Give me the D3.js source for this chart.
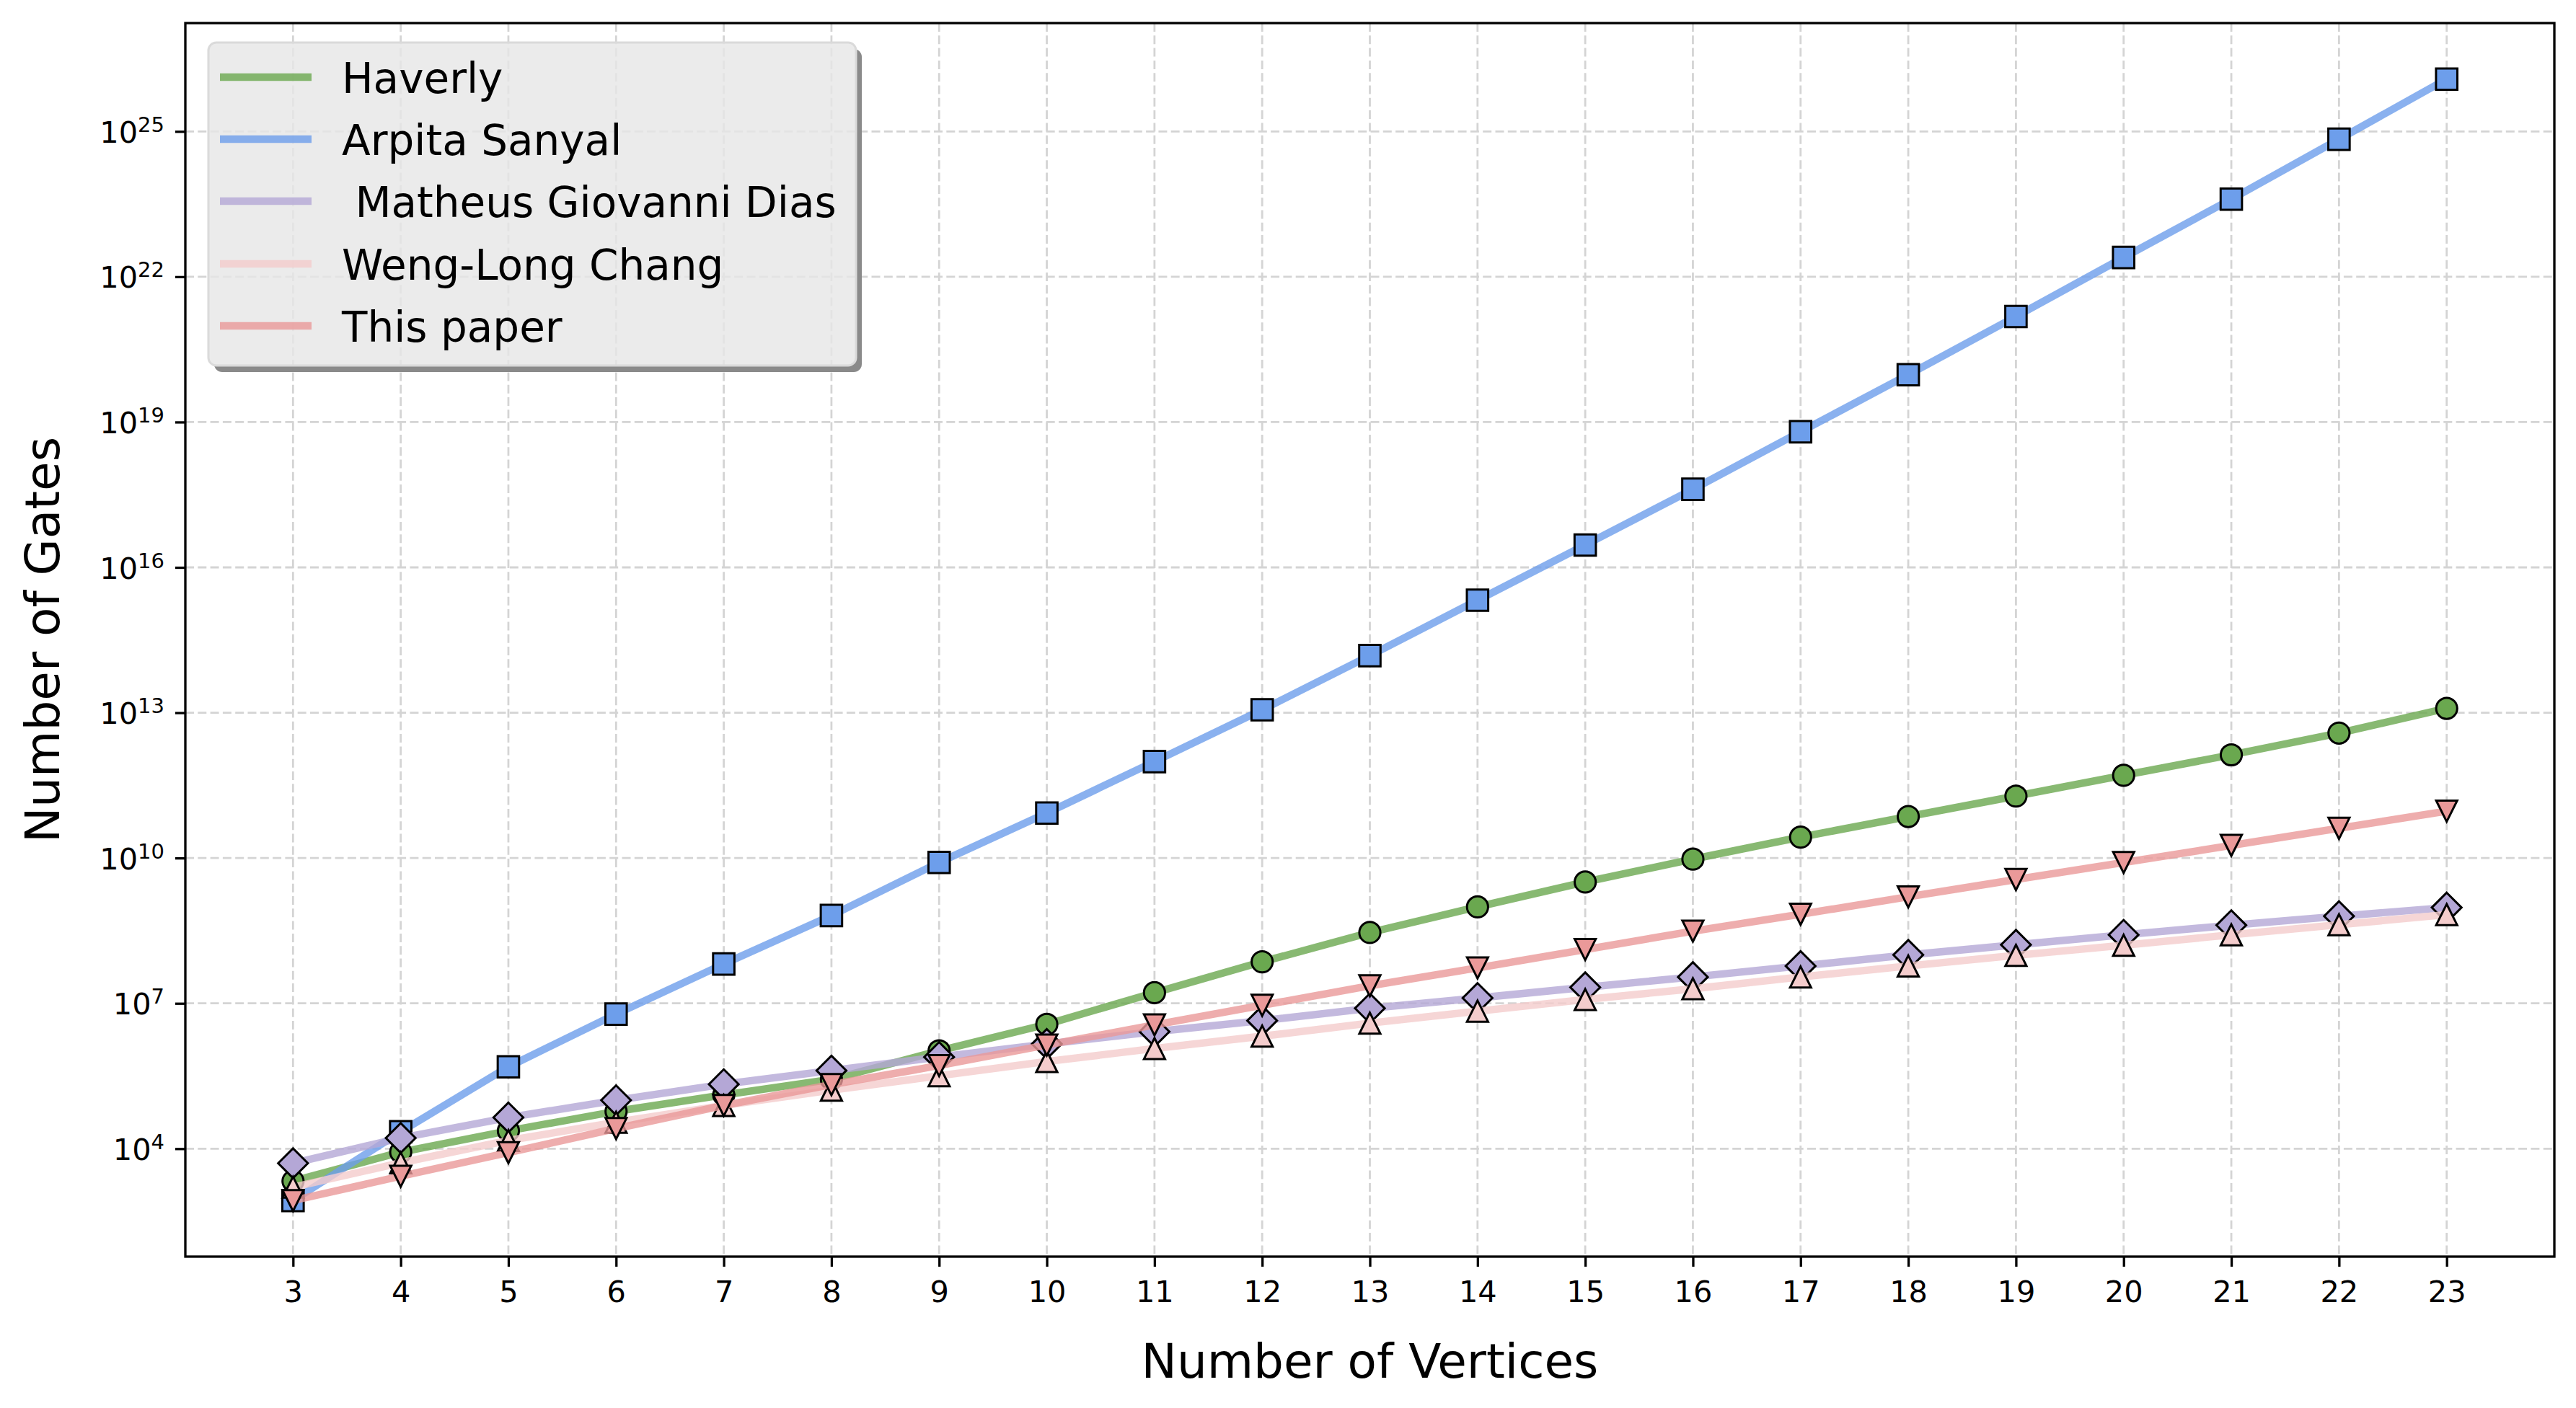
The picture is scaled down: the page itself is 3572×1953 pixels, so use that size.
<!DOCTYPE html>
<html>
<head>
<meta charset="utf-8">
<script src="https://cdn.jsdelivr.net/npm/d3@7"></script>
<style>
  html, body { margin: 0; padding: 0; background: #ffffff; }
  svg { display: block; font-family: "DejaVu Sans", sans-serif; }
</style>
</head>
<body>
<svg id="chart" width="3572" height="1953"></svg>
<script>
// ---------------- data ----------------
const vertices = [3, 4, 5, 6, 7, 8, 9, 10, 11, 12, 13, 14, 15, 16, 17, 18, 19, 20, 21, 22, 23];

const haverly = [2.14e3, 8.5e3, 2.34e4, 5.9e4, 1.29e5, 2.69e5, 1.05e6, 3.7e6, 1.66e7, 7.2e7, 2.9e8,
                 9.8e8, 3.2e9, 9.5e9, 2.7e10, 7.2e10, 1.9e11, 5.1e11, 1.35e12, 3.8e12, 1.23e13];

const arpitaSanyal = [8.5e2, 2.24e4, 4.9e5, 6.0e6, 6.5e7, 6.5e8, 8.1e9, 8.5e10, 9.8e11, 1.15e13, 1.51e14,
                      2.1e15, 2.9e16, 4.1e17, 6.3e18, 9.5e19, 1.51e21, 2.5e22, 4.0e23, 6.9e24, 1.2e26];

const matheusDias = [5.0e3, 1.66e4, 4.4e4, 1.0e5, 2.14e5, 4.1e5, 7.8e5, 1.45e6, 2.6e6, 4.4e6, 7.9e6,
                     1.29e7, 2.14e7, 3.5e7, 5.9e7, 1.0e8, 1.62e8, 2.6e8, 4.1e8, 6.3e8, 9.5e8];

const wengLongChang = [1.6e3, 5.1e3, 1.48e4, 3.5e4, 7.8e4, 1.62e5, 3.2e5, 6.3e5, 1.17e6, 2.1e6, 3.9e6,
                       6.9e6, 1.2e7, 2.0e7, 3.5e7, 5.9e7, 9.8e7, 1.58e8, 2.6e8, 4.2e8, 6.8e8];

const thisPaper = [8.5e2, 2.7e3, 8.3e3, 2.6e4, 7.8e4, 2.1e5, 5.2e5, 1.38e6, 3.6e6, 9.1e6, 2.3e7,
                   5.4e7, 1.29e8, 3.1e8, 6.9e8, 1.58e9, 3.6e9, 8.1e9, 1.82e10, 4.1e10, 9.3e10];

const seriesNames = ["Haverly", "Arpita Sanyal", " Matheus Giovanni Dias", "Weng-Long Chang", "This paper"];
const seriesColors = ["#6aa84f", "#6d9eeb", "#b4a7d6", "#f4cccc", "#ea9999"];
const seriesMarkers = ["circle", "square", "diamond", "triangleUp", "triangleDown"];

const yTickValues = [1e4, 1e7, 1e10, 1e13, 1e16, 1e19, 1e22, 1e25];
const yTickExponents = ["4", "7", "10", "13", "16", "19", "22", "25"];

const xLabel = "Number of Vertices";
const yLabel = "Number of Gates";

// ---------------- build ----------------
const seriesValues = [haverly, arpitaSanyal, matheusDias, wengLongChang, thisPaper];
const series = seriesNames.map((name, i) => ({
  name, color: seriesColors[i], marker: seriesMarkers[i],
  points: vertices.map((v, j) => ({ x: v, y: seriesValues[i][j] }))
}));

const W = 3572, H = 1953;
const plot = { left: 257, right: 3542, top: 32, bottom: 1743 };

const svg = d3.select("#chart");

// x scale with matplotlib-like 5% margins
const xMin = d3.min(vertices), xMax = d3.max(vertices);
const xPad = (xMax - xMin) * 0.05;
const x = d3.scaleLinear().domain([xMin - xPad, xMax + xPad]).range([plot.left, plot.right]);

// y log scale with 5% margins in log space
const allY = seriesValues.flat();
const lMin = Math.log10(d3.min(allY)), lMax = Math.log10(d3.max(allY));
const lPad = (lMax - lMin) * 0.05;
const y = d3.scaleLog().domain([Math.pow(10, lMin - lPad), Math.pow(10, lMax + lPad)])
  .range([plot.bottom, plot.top]);

// background
svg.append("rect").attr("x", 0).attr("y", 0).attr("width", W).attr("height", H).attr("fill", "#ffffff");

// grid
const grid = svg.append("g").attr("class", "grid");
grid.selectAll("line.vx").data(vertices).join("line")
  .attr("x1", d => x(d)).attr("x2", d => x(d))
  .attr("y1", plot.top).attr("y2", plot.bottom)
  .attr("stroke", "#d4d4d4").attr("stroke-width", 2.8).attr("stroke-dasharray", "12,5.3");
grid.selectAll("line.hy").data(yTickValues).join("line")
  .attr("x1", plot.left).attr("x2", plot.right)
  .attr("y1", d => y(d)).attr("y2", d => y(d))
  .attr("stroke", "#d4d4d4").attr("stroke-width", 2.8).attr("stroke-dasharray", "12,5.3");

// marker shapes
function markerPath(type) {
  const p = d3.path();
  if (type === "circle") {
    const r = 14.6; p.moveTo(r, 0); p.arc(0, 0, r, 0, Math.PI * 2); p.closePath();
  } else if (type === "square") {
    const s = 14.8; p.rect(-s, -s, 2 * s, 2 * s);
  } else if (type === "diamond") {
    const s = 20.6; p.moveTo(0, -s); p.lineTo(s, 0); p.lineTo(0, s); p.lineTo(-s, 0); p.closePath();
  } else if (type === "triangleUp") {
    const s = 14.6; p.moveTo(0, -s); p.lineTo(s, s); p.lineTo(-s, s); p.closePath();
  } else if (type === "triangleDown") {
    const s = 14.6; p.moveTo(0, s); p.lineTo(s, -s); p.lineTo(-s, -s); p.closePath();
  }
  return p.toString();
}

const line = d3.line().x(d => x(d.x)).y(d => y(d.y));

const dataLayer = svg.append("g").attr("class", "data");
series.forEach(s => {
  const g = dataLayer.append("g");
  g.append("path").datum(s.points)
    .attr("d", line)
    .attr("fill", "none")
    .attr("stroke", s.color)
    .attr("stroke-opacity", 0.8)
    .attr("stroke-width", 10.4)
    .attr("stroke-linejoin", "round")
    .attr("stroke-linecap", "butt");
  g.selectAll("path.m").data(s.points).join("path")
    .attr("class", "m")
    .attr("transform", d => `translate(${x(d.x)},${y(d.y)})`)
    .attr("d", markerPath(s.marker))
    .attr("fill", s.color)
    .attr("stroke", "#000000")
    .attr("stroke-width", 3)
    .attr("stroke-linejoin", "miter");
});

// axes
const xAxis = d3.axisBottom(x).tickValues(vertices).tickSize(14).tickSizeOuter(0).tickFormat(d3.format("d"));
const gx = svg.append("g").attr("transform", `translate(0,${plot.bottom})`).call(xAxis);
gx.select(".domain").remove();
gx.selectAll(".tick line").attr("stroke", "#000").attr("stroke-width", 3.3);
gx.selectAll(".tick text")
  .attr("y", 63).attr("dy", null)
  .attr("font-size", 41.5).attr("font-family", "DejaVu Sans").attr("fill", "#000");

const yAxis = d3.axisLeft(y).tickValues(yTickValues).tickSize(14).tickSizeOuter(0).tickFormat(() => "");
const gy = svg.append("g").attr("transform", `translate(${plot.left},0)`).call(yAxis);
gy.select(".domain").remove();
gy.selectAll(".tick line").attr("stroke", "#000").attr("stroke-width", 3.3);
gy.selectAll(".tick text").each(function (d) {
  const t = d3.select(this);
  t.text(null)
    .attr("x", -29).attr("y", 15).attr("dy", null)
    .attr("text-anchor", "end")
    .attr("font-family", "DejaVu Sans").attr("fill", "#000").attr("font-size", 41.5);
  t.append("tspan").text("10");
  t.append("tspan").attr("dy", -15).attr("font-size", 29).text(yTickExponents[yTickValues.indexOf(d)]);
});

// frame (spines)
svg.append("rect")
  .attr("x", plot.left).attr("y", plot.top)
  .attr("width", plot.right - plot.left).attr("height", plot.bottom - plot.top)
  .attr("fill", "none").attr("stroke", "#000").attr("stroke-width", 3.3);

// axis labels
svg.append("text")
  .attr("x", (plot.left + plot.right) / 2).attr("y", 1911)
  .attr("text-anchor", "middle").attr("font-size", 66).attr("fill", "#000")
  .text(xLabel);
svg.append("text")
  .attr("transform", `translate(82,${(plot.top + plot.bottom) / 2}) rotate(-90)`)
  .attr("text-anchor", "middle").attr("font-size", 66).attr("fill", "#000")
  .text(yLabel);

// legend
const lx = 289, ly = 59, lw = 898, lh = 448;
const defs = svg.append("defs");
const mask = defs.append("mask").attr("id", "legendShadowMask")
  .attr("maskUnits", "userSpaceOnUse").attr("x", 0).attr("y", 0).attr("width", W).attr("height", H);
mask.append("rect").attr("x", 0).attr("y", 0).attr("width", W).attr("height", H).attr("fill", "#fff");
mask.append("rect").attr("x", lx).attr("y", ly).attr("width", lw).attr("height", lh).attr("rx", 11).attr("fill", "#000");

const leg = svg.append("g").attr("class", "legend");
leg.append("rect").attr("x", lx + 8).attr("y", ly + 9).attr("width", lw).attr("height", lh)
  .attr("rx", 11).attr("fill", "#8a8a8a").attr("mask", "url(#legendShadowMask)");
leg.append("rect").attr("x", lx).attr("y", ly).attr("width", lw).attr("height", lh)
  .attr("rx", 11).attr("fill", "#e6e6e6").attr("fill-opacity", 0.8)
  .attr("stroke", "#dadada").attr("stroke-width", 3);
const rowY = [107, 193, 279, 366, 452];
series.forEach((s, i) => {
  leg.append("line")
    .attr("x1", 305).attr("x2", 432).attr("y1", rowY[i]).attr("y2", rowY[i])
    .attr("stroke", s.color).attr("stroke-opacity", 0.8).attr("stroke-width", 10.4);
  leg.append("text")
    .attr("x", 474).attr("y", rowY[i] + 21.5)
    .attr("font-size", 58).attr("fill", "#000")
    .style("white-space", "pre")
    .text(s.name);
});
</script>
</body>
</html>
